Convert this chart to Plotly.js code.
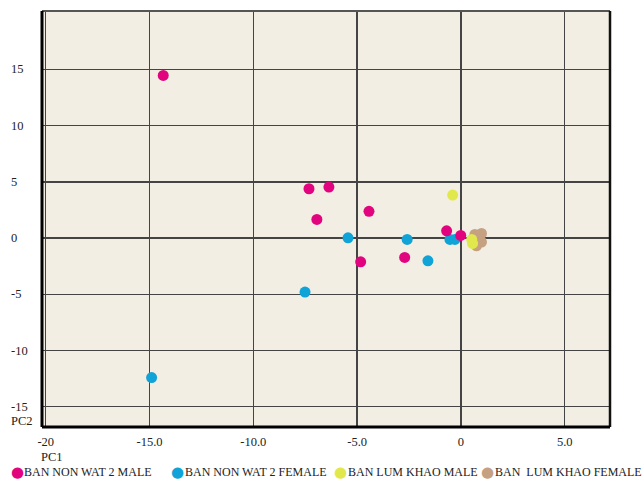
<!DOCTYPE html>
<html>
<head>
<meta charset="utf-8">
<script src="https://cdn.plot.ly/plotly-3.0.1.min.js"></script>
<style>
html,body{margin:0;padding:0;background:#fff;}
#chart{width:643px;height:482px;}
</style>
</head>
<body>
<div id="chart"></div>
<script>
// ---- data ----
var seriesNames = ["BAN NON WAT 2 MALE", "BAN NON WAT 2 FEMALE", "BAN LUM KHAO MALE", "BAN  LUM KHAO FEMALE"];
var seriesColors = ["#E2047F", "#0FA3D8", "#E1E84C", "#C5A182"];

var nonWatMaleX = [-14.34, -7.32, -6.36, -6.94, -4.43, -4.83, -2.71, -0.69, -0.01];
var nonWatMaleY = [14.47, 4.39, 4.54, 1.66, 2.38, -2.11, -1.72, 0.65, 0.24];

var nonWatFemaleX = [-5.44, -2.59, -0.53, -0.29, -1.59, -7.51, -14.9];
var nonWatFemaleY = [0.03, -0.12, -0.12, -0.12, -2.02, -4.8, -12.4];

var lumKhaoMaleX = [-0.4, 0.52, 0.56];
var lumKhaoMaleY = [3.83, -0.12, -0.47];

var lumKhaoFemaleX = [0.67, 0.99, 0.99, 0.75, 0.85];
var lumKhaoFemaleY = [0.33, 0.42, -0.35, -0.68, -0.15];

var xTickVals = [-20, -15, -10, -5, 0, 5];
var xTickText = ["-20", "-15.0", "-10.0", "-5.0", "0", "5.0"];
var yTickVals = [15, 10, 5, 0, -5, -10, -15];
var yTickText = ["15", "10", "5", "0", "-5", "-10", "-15"];

// ---- chart ----
var FONT = "Liberation Serif, DejaVu Serif, serif";
function trace(x, y, i) {
  return {x: x, y: y, type: "scatter", mode: "markers", name: seriesNames[i],
    showlegend: false, hoverinfo: "x+y",
    marker: {color: seriesColors[i], size: 11, line: {width: 0}}};
}
var data = [
  trace(lumKhaoFemaleX, lumKhaoFemaleY, 3),
  trace(lumKhaoMaleX, lumKhaoMaleY, 2),
  trace(nonWatFemaleX, nonWatFemaleY, 1),
  trace(nonWatMaleX, nonWatMaleY, 0)
];

var L = 42, R = 33, T = 11, B = 55, W = 643, H = 482;
var pw = W - L - R, ph = H - T - B;
function px2paperX(p) { return (p - L) / pw; }
function py2paperY(p) { return (H - B - p) / ph; }

var annotations = [];
yTickVals.forEach(function (v, i) {
  annotations.push({xref: "paper", yref: "y", x: px2paperX(9), y: v, xanchor: "left", yanchor: "middle",
    text: yTickText[i], showarrow: false, font: {family: FONT, size: 12.5, color: "#222"}});
});
annotations.push({xref: "paper", yref: "paper", x: px2paperX(9), y: py2paperY(421), xanchor: "left", yanchor: "middle",
  text: "PC2", showarrow: false, font: {family: FONT, size: 12.5, color: "#222"}});
annotations.push({xref: "paper", yref: "paper", x: px2paperX(39), y: py2paperY(457), xanchor: "left", yanchor: "middle",
  text: "PC1", showarrow: false, font: {family: FONT, size: 12.5, color: "#222"}});

var legDot = [17, 177, 340, 487];
var legText = [22, 183, 346, 493];
seriesNames.forEach(function (n, i) {
  annotations.push({xref: "paper", yref: "paper", x: px2paperX(legDot[i]), y: py2paperY(472), xanchor: "center", yanchor: "middle",
    text: "●", showarrow: false, font: {family: "DejaVu Sans", size: 15, color: seriesColors[i]}});
  annotations.push({xref: "paper", yref: "paper", x: px2paperX(legText[i]), y: py2paperY(472), xanchor: "left", yanchor: "middle",
    text: n.replace(/  /g, "&nbsp; "), showarrow: false, font: {family: FONT, size: 12, color: "#222"}});
});

var shapes = [
  {type: "line", xref: "paper", yref: "paper", x0: 0, x1: 1, y0: 1, y1: 1, line: {color: "#555", width: 2}},
  {type: "line", xref: "paper", yref: "paper", x0: 0, x1: 0, y0: 0, y1: 1, line: {color: "#000", width: 3}},
  {type: "line", xref: "paper", yref: "paper", x0: 1, x1: 1, y0: 0, y1: 1, line: {color: "#111", width: 2.5}},
  {type: "line", xref: "paper", yref: "paper", x0: 0, x1: 1, y0: 0, y1: 0, line: {color: "#000", width: 3}}
];

var layout = {
  width: W, height: H,
  margin: {l: L, r: R, t: T, b: B, pad: 0},
  paper_bgcolor: "#ffffff",
  plot_bgcolor: "#F2EEE3",
  showlegend: false,
  font: {family: FONT, size: 12, color: "#222"},
  xaxis: {
    range: [-20.18, 7.18], tickmode: "array", tickvals: xTickVals, ticktext: xTickText,
    showgrid: true, gridcolor: "#444", gridwidth: 1.4, zeroline: false,
    showline: false, ticks: "", ticklabelstandoff: 5,
    tickfont: {family: FONT, size: 12.5, color: "#222"}, fixedrange: true
  },
  yaxis: {
    range: [-16.8, 20.2], tickmode: "array", tickvals: yTickVals,
    showgrid: true, gridcolor: "#444", gridwidth: 1.4, zeroline: false,
    showline: false, ticks: "", showticklabels: false, fixedrange: true
  },
  annotations: annotations,
  shapes: shapes
};

Plotly.newPlot("chart", data, layout, {displayModeBar: false, staticPlot: true});
</script>
</body>
</html>
